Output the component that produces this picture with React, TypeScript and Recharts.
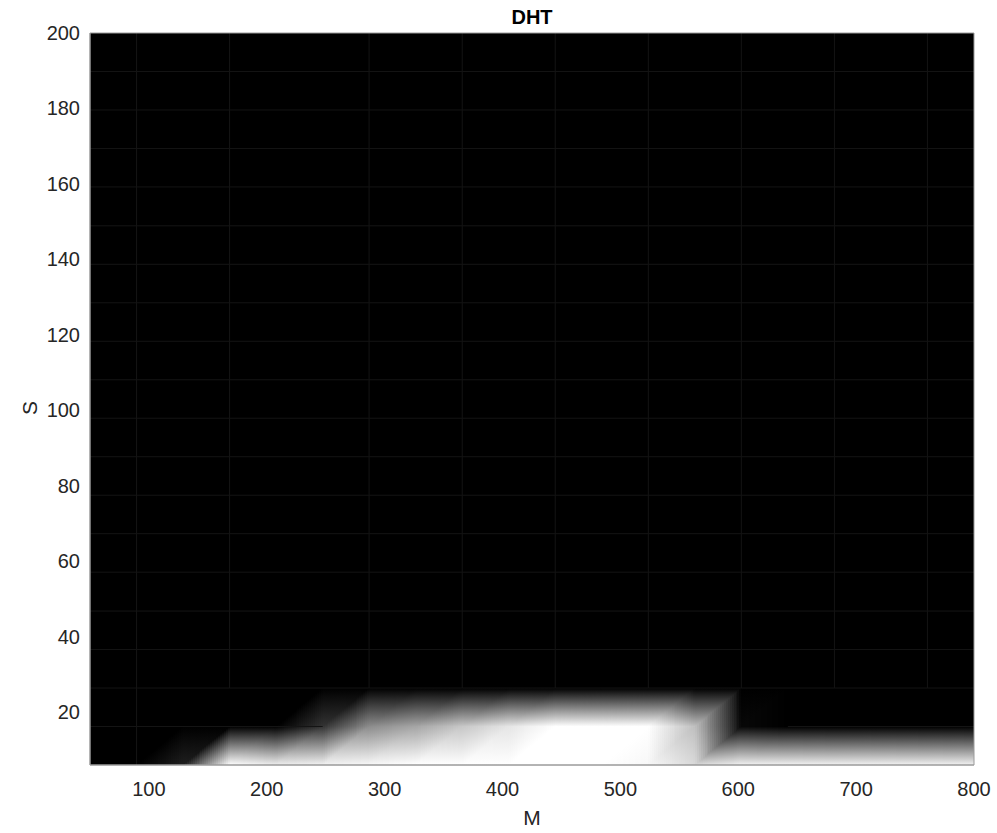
import { ComposedChart, XAxis, YAxis, ReferenceArea, ReferenceLine } from "recharts";

// mesh nodes of the surface
const mNodes = [50, 89.5, 128.9, 168.4, 207.9, 247.4, 286.8, 326.3, 365.8, 405.3, 444.7, 484.2, 523.7, 563.2, 602.6, 642.1, 681.6, 721.1, 760.5, 800];
const sNodes = [6, 16.2, 26.4, 36.6, 46.8, 57.1, 67.3, 77.5, 87.7, 97.9, 108.1, 118.3, 128.5, 138.7, 148.9, 159.2, 169.4, 179.6, 189.8, 200];

// normalised DHT level at each M node (0 = black, 1 = white)
// rows for S >= 26.4 are all zero
const dhtAtS6 = [0, 0, 0.12, 1, 0.93, 0.95, 0.97, 1, 1, 1, 1, 1, 0.97, 0.85, 0.95, 0.95, 0.95, 0.95, 0.95, 0.95];
const dhtAtS16 = [0, 0, 0, 0, 0, 0.2, 0.55, 0.65, 0.78, 0.9, 1, 1, 1, 0.75, 0.03, 0, 0, 0, 0, 0];
const dhtRows = [dhtAtS6, dhtAtS16];

// faint mesh seams that show through the black
const seamM = [89.5, 168.4, 286.8, 365.8, 444.7, 523.7, 602.6, 681.6, 760.5];

const xTicks = [100, 200, 300, 400, 500, 600, 700, 800];
const yTicks = [20, 40, 60, 80, 100, 120, 140, 160, 180, 200];

const FONT = "'Liberation Sans', Arial, Helvetica, sans-serif";
const SEAM = "#141414";
const BOX = "#9a9a9a";

const level = (i: number, j: number) => (dhtRows[j] ? dhtRows[j][i] : 0);

function gray(f: number) {
  const g = Math.round(Math.max(0, Math.min(1, f)) * 255);
  return `rgb(${g},${g},${g})`;
}

// one mesh cell, split along the lower-left -> upper-right diagonal,
// shaded like MATLAB's interp shading using thin vertical strips
function cellShape(key: string, z00: number, z10: number, z01: number, z11: number) {
  return (p: any) => {
    const { x, y, width, height } = p;
    const n = Math.max(4, Math.ceil(width / 2));
    const defs: any[] = [];
    const rects: any[] = [];
    for (let k = 0; k < n; k++) {
      const u = (k + 0.5) / n;
      const f0 = z00 + (z10 - z00) * u;
      const fd = z00 + (z11 - z00) * u;
      const f1 = z01 + (z11 - z01) * u;
      const id = `${key}-${k}`;
      const xa = Math.round(x + (k * width) / n);
      const xb = Math.round(x + ((k + 1) * width) / n);
      if (xb <= xa) continue;
      defs.push(
        <linearGradient key={id} id={id} x1="0" y1="1" x2="0" y2="0">
          <stop offset="0" stopColor={gray(f0)} />
          <stop offset={u} stopColor={gray(fd)} />
          <stop offset="1" stopColor={gray(f1)} />
        </linearGradient>
      );
      rects.push(
        <rect key={id} x={xa} y={y} width={xb - xa} height={height} fill={`url(#${id})`} shapeRendering="crispEdges" />
      );
    }
    return (
      <g>
        <defs>{defs}</defs>
        {rects}
      </g>
    );
  };
}

const XTick = (props: any) => (
  <text x={props.x} y={props.y + 31} textAnchor="middle" fontSize={20} fontFamily={FONT} fill="#262626">
    {props.payload.value}
  </text>
);

const YTick = (props: any) => (
  <text x={props.x - 10} y={props.y + 7} textAnchor="end" fontSize={20} fontFamily={FONT} fill="#262626">
    {props.payload.value}
  </text>
);

export default function App() {
  const cells: any[] = [];
  for (let j = 0; j < sNodes.length - 1; j++) {
    for (let i = 0; i < mNodes.length - 1; i++) {
      const z00 = level(i, j);
      const z10 = level(i + 1, j);
      const z01 = level(i, j + 1);
      const z11 = level(i + 1, j + 1);
      if (z00 + z10 + z01 + z11 === 0) continue;
      cells.push(
        <ReferenceArea
          key={`c${i}-${j}`}
          x1={mNodes[i]}
          x2={mNodes[i + 1]}
          y1={sNodes[j]}
          y2={sNodes[j + 1]}
          shape={cellShape(`g${i}-${j}`, z00, z10, z01, z11)}
        />
      );
    }
  }

  const sTop = sNodes[sNodes.length - 1];

  return (
    <div style={{ position: "absolute", left: 0, top: 0, width: 997, height: 833, background: "#fff" }}>
      <ComposedChart width={997} height={833} margin={{ top: 33, right: 23, bottom: 18, left: 30 }}>
        <XAxis
          type="number"
          dataKey="m"
          domain={[50, 800]}
          ticks={xTicks}
          allowDataOverflow
          height={50}
          tickSize={0}
          tickMargin={0}
          tickLine={false}
          axisLine={{ stroke: BOX }}
          tick={<XTick />}
        />
        <YAxis
          type="number"
          dataKey="s"
          domain={[6, 200]}
          ticks={yTicks}
          allowDataOverflow
          width={60}
          tickSize={0}
          tickMargin={0}
          tickLine={false}
          axisLine={{ stroke: BOX }}
          tick={<YTick />}
        />
        <ReferenceArea x1={50} x2={800} y1={6} y2={200} fill="#000" fillOpacity={1} stroke="none" />
        {cells}
        {sNodes.slice(2, -1).map((s) => (
          <ReferenceLine key={`hs${s}`} y={s} stroke={SEAM} strokeWidth={1} />
        ))}
        <ReferenceLine segment={[{ x: 50, y: sNodes[1] }, { x: mNodes[5], y: sNodes[1] }]} stroke={SEAM} />
        <ReferenceLine segment={[{ x: mNodes[15], y: sNodes[1] }, { x: 800, y: sNodes[1] }]} stroke={SEAM} />
        {seamM.map((m) => (
          <ReferenceLine
            key={`vs${m}`}
            segment={[{ x: m, y: sNodes[2] }, { x: m, y: sTop }]}
            stroke={SEAM}
            strokeWidth={1}
          />
        ))}
        <ReferenceLine segment={[{ x: mNodes[1], y: sNodes[0] }, { x: mNodes[1], y: sNodes[2] }]} stroke={SEAM} />
        <ReferenceLine y={200} stroke={BOX} />
        <ReferenceLine x={800} stroke={BOX} />
        <ReferenceLine y={6} stroke={BOX} />
        <ReferenceLine x={50} stroke={BOX} />
      </ComposedChart>
      <div
        style={{
          position: "absolute",
          left: 432,
          width: 200,
          top: 6,
          textAlign: "center",
          fontFamily: FONT,
          fontWeight: "bold",
          fontSize: 20,
          color: "#000",
        }}
      >
        DHT
      </div>
      <div
        style={{
          position: "absolute",
          left: 432,
          width: 200,
          top: 806,
          textAlign: "center",
          fontFamily: FONT,
          fontSize: 21,
          color: "#262626",
        }}
      >
        M
      </div>
      <div
        style={{
          position: "absolute",
          left: 30,
          top: 408,
          fontFamily: FONT,
          fontSize: 21,
          color: "#262626",
          transform: "translate(-50%, -50%) rotate(-90deg)",
        }}
      >
        S
      </div>
    </div>
  );
}
